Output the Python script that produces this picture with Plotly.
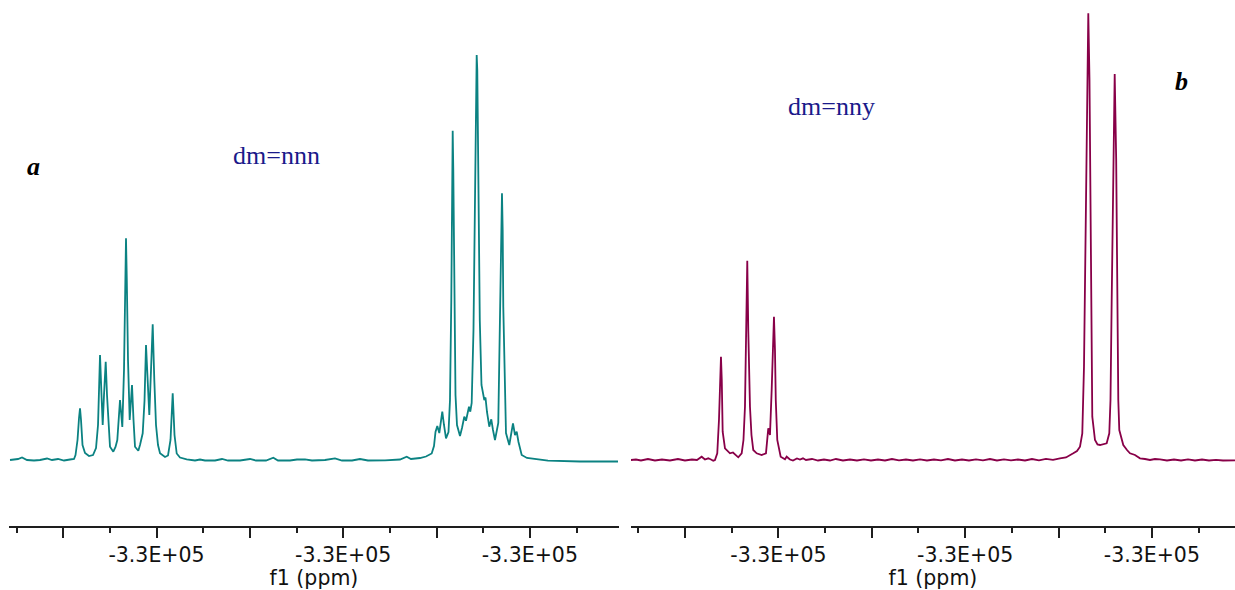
import numpy as np
import plotly.graph_objects as go

# Acquisition / referencing parameters
SF_MHZ = 466.67               # spectrometer frequency
CARRIER_PPM = -329997.8839    # shift at offset 0 Hz
SW_A_HZ = 610                 # displayed width, spectrum a
SW_B_HZ = 604                 # displayed width, spectrum b

# Spectrum a (dm=nnn): offset from carrier (Hz) and intensity (a.u.)
a_offset_hz = [
    1, 9, 13, 18, 25, 31, 38, 43, 49, 55, 61, 65, 66.5, 68.5, 70, 71, 72, 73.5, 76, 80,
    84, 87, 89, 91, 92.5, 93.7, 95, 96.7, 98, 99.5, 101, 104.3, 106.5, 108.3, 109.8, 111,
    112.3, 113.3, 115, 116.3, 117, 117.8, 119, 120.7, 122, 123, 124.5, 126, 129.3, 131,
    133.7, 135.5, 137, 138.5, 140.3, 142, 143.7, 145.3, 147, 149, 151, 156, 159, 161.5,
    163.7, 165.5, 167.7, 171, 177.7, 186, 191, 196, 206, 213, 219, 231, 241, 247, 257,
    264.3, 269, 281, 288, 296, 303, 316, 326, 333, 343, 351, 359, 376, 391, 397.7, 402,
    411, 417, 422.7, 425, 426.5, 428.3, 430.3, 433.3, 435, 437, 439.5, 441, 442.3, 443.2,
    443.7, 444.3, 445.3, 446.5, 448, 451, 453, 455.3, 457, 460, 461.3, 462.7, 464.5, 466.3,
    467.3, 467.7, 468.3, 469.3, 470.8, 472.5, 474.3, 475.3, 476.5, 478, 480.3, 482.3, 484,
    486, 489.3, 491, 492.3, 493, 493.7, 494.3, 497, 500.3, 502, 504, 506, 507.7, 509.5,
    512.7, 518, 527.7, 539, 571, 609,
]
a_intensity = [
    1, 2, 3.5, 1, 0.5, 1, 2.5, 1, 2, 0.5, 1.5, 2, 6, 21, 43, 52.7, 41, 16, 8, 5,
    6, 13, 36, 106, 66, 36, 66, 99.3, 66, 35, 14.3, 9.3, 14, 21, 40, 61,
    46, 34, 91, 181, 222.7, 181, 101, 41, 63, 76, 41, 14.3, 10.3, 16,
    27.7, 60, 116, 81, 46, 91, 136.7, 81, 36, 16, 7.7, 4, 5.5, 21,
    67.7, 26, 7.5, 3.5, 1.7, 0.5, 1.5, 0.5, 0.5, 2, 0.5, 0.5, 2, 0.5, 0.5,
    3.3, 0.5, 0.5, 1.5, 1.7, 0.5, 1, 2.7, 0.5, 0.5, 2, 0.5, 0.7, 1.5, 4.3, 2,
    3, 4.5, 7.5, 15, 29, 35, 28, 49.3, 36, 22.7, 29, 61, 161, 291,
    330.3, 291, 161, 66, 36, 25, 33, 44.3, 40.3, 54.3, 49.3, 58, 131, 311,
    396, 406, 391, 301, 141, 76, 63, 61, 63.5, 49, 34.3, 41.7, 31,
    21, 38, 154.3, 231, 267.7, 231, 154.3, 28, 16, 26, 37.7, 26, 29.3, 19,
    6, 3, 1.7, 0.3, -0.5, -0.5,
]

# Spectrum b (dm=nny): offset from carrier (Hz) and intensity (a.u.)
b_offset_hz = [
    0, 5, 10, 17, 24, 31, 39, 47, 54, 61, 66, 70.7, 74, 77.3, 80, 82.3, 84, 86.3, 88, 89.3,
    90, 90.8, 91.7, 94, 99, 102, 104, 107.3, 110.7, 112.5, 114, 115.3, 116.3, 117.3, 119,
    120.5, 122.3, 125.7, 130.7, 135, 137.3, 138.3, 139, 140.7, 142, 143, 144, 144.8, 146.3,
    149.7, 154, 155.7, 159, 162, 166, 169, 172, 175, 181, 187, 193, 199, 205, 212, 219,
    226, 233, 240, 247, 254, 261, 268, 275, 282, 289, 296, 303, 310, 317, 324, 331, 338,
    345, 352, 359, 366, 373, 380, 387, 394, 401, 408, 415, 422, 429, 435, 442.3, 446, 449,
    451.3, 453, 454.7, 456, 457.3, 458.5, 459.7, 461.3, 464, 466.5, 469, 472, 475.7, 478.3,
    479.5, 480.7, 482.2, 483.7, 485.2, 486.3, 487.3, 488.3, 492.3, 496, 499, 504, 509, 514,
    519, 524, 529, 536, 543, 550, 557, 564, 571, 578, 585, 592, 599, 604,
]
b_intensity = [
    1, 1.5, 0.5, 2, 0.5, 1.5, 0.5, 2, 0.5, 1.5, 1, 4.3, 1.5, 2.7, 1.5, 0.3, 1, 7.7, 41, 86,
    104.3, 81, 29.3, 12.7, 7.7, 8.5, 7, 3.7, 7.7, 21, 54.3, 131, 200.3, 131, 54.3,
    26, 11, 7.7, 6, 7.7, 32.7, 30, 26, 71, 121, 144.3, 111, 61, 21,
    4.3, 1.7, 4.3, 1.5, 0.5, 2.5, 1.5, 2.7, 1, 2, 0.5, 1.5, 0.5, 2, 0.5, 1.5,
    0.5, 1.7, 0.5, 1.5, 0.5, 2, 0.7, 1.5, 0.5, 1.7, 0.5, 1.5, 0.7, 2, 0.5, 1.5, 0.5,
    1.7, 0.7, 2, 0.5, 1.7, 0.7, 1.5, 0.5, 2, 0.7, 2.2, 1.2, 2.7, 3.5, 7.7, 10, 14.3,
    27.7, 94.3, 261, 381, 447.7, 381, 261, 44.3, 21, 16.5, 16, 17, 17.7, 27.7,
    61, 161, 301, 387, 301, 161, 61, 31, 16, 11, 7.7, 6, 2.7, 2,
    1, 2, 1.7, 0.5, 1.5, 0.5, 1.7, 0.5, 1.5, 0.5, 1.2, 0.5, 1, 0.7,
]

# Axis ticks (ppm) and their labels
MAJOR_TICKS_PPM = [-329998.0, -329998.2, -329998.4, -329998.6, -329998.8, -329999.0]
MAJOR_TICK_LABELS = ["", "-3.3E+05", "", "-3.3E+05", "", "-3.3E+05"]
MINOR_STEP_PPM = 0.1

PANEL_LABELS = ["a", "b"]
PANEL_NOTES = ["dm=nnn", "dm=nny"]


def to_ppm(offset_hz):
    return CARRIER_PPM - np.asarray(offset_hz, dtype=float) / SF_MHZ


TEAL = "#0b8282"
WINE = "#880048"
AXIS_COLOR = "#1e1e1e"
NOTE_COLOR = "#1a1a8a"

fig = go.Figure()
fig.add_trace(go.Scatter(x=to_ppm(a_offset_hz), y=a_intensity, mode="lines",
                         line=dict(color=TEAL, width=1.8), xaxis="x", yaxis="y",
                         hoverinfo="skip"))
fig.add_trace(go.Scatter(x=to_ppm(b_offset_hz), y=b_intensity, mode="lines",
                         line=dict(color=WINE, width=1.8), xaxis="x2", yaxis="y2",
                         hoverinfo="skip"))


def ppm_axis(domain, sw_hz, anchor):
    return dict(
        domain=domain,
        anchor=anchor,
        range=[CARRIER_PPM, float(to_ppm(sw_hz))],
        showgrid=False,
        zeroline=False,
        showline=True,
        linecolor=AXIS_COLOR,
        linewidth=1.5,
        ticks="outside",
        ticklen=10,
        tickwidth=1.5,
        tickcolor=AXIS_COLOR,
        tickmode="array",
        tickvals=MAJOR_TICKS_PPM,
        ticktext=MAJOR_TICK_LABELS,
        tickfont=dict(family="DejaVu Sans", size=20.5, color="#111111"),
        minor=dict(ticks="outside", ticklen=5, tickwidth=1.5, tickcolor=AXIS_COLOR,
                   tickmode="linear", tick0=MAJOR_TICKS_PPM[0], dtick=MINOR_STEP_PPM,
                   showgrid=False),
        title=dict(text="f1 (ppm)", standoff=2,
                   font=dict(family="DejaVu Sans", size=20.5, color="#111111")),
    )


intensity_range = [-65, 461]


def note(text, x, y, color):
    return dict(text=text, xref="paper", yref="paper", x=x, y=y,
                xanchor="center", yanchor="middle", showarrow=False,
                font=dict(family="Liberation Serif", size=26, color=color))


fig.update_layout(
    width=1235,
    height=590,
    margin=dict(l=0, r=0, t=0, b=64),
    paper_bgcolor="white",
    plot_bgcolor="white",
    showlegend=False,
    xaxis=ppm_axis([0.0073, 0.5012], SW_A_HZ, "y"),
    xaxis2=ppm_axis([0.5109, 1.0], SW_B_HZ, "y2"),
    yaxis=dict(domain=[0, 1], anchor="x", range=intensity_range, visible=False),
    yaxis2=dict(domain=[0, 1], anchor="x2", range=intensity_range, visible=False),
    annotations=[
        note("<b><i>%s</i></b>" % PANEL_LABELS[0], 0.0275, 0.683, "black"),
        note("<b><i>%s</i></b>" % PANEL_LABELS[1], 0.9563, 0.846, "black"),
        note(PANEL_NOTES[0], 0.2235, 0.705, NOTE_COLOR),
        note(PANEL_NOTES[1], 0.673, 0.797, NOTE_COLOR),
    ],
)

fig.write_html("out.html")
